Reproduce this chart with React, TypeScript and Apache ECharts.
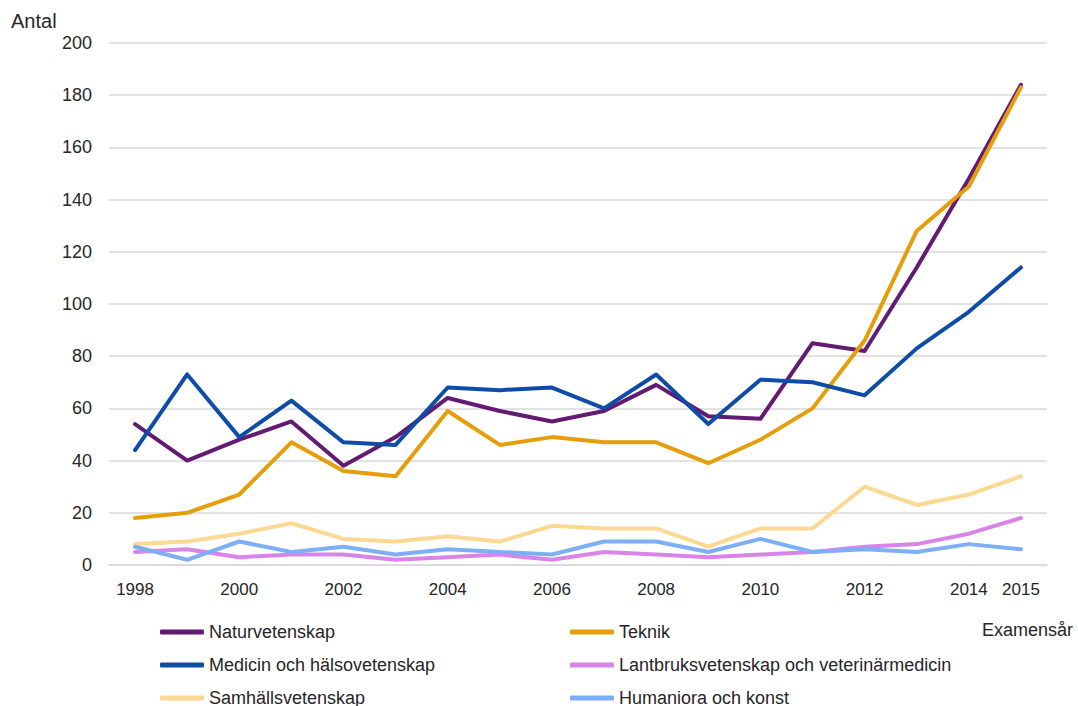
import React, { useEffect, useRef } from "react";
import * as echarts from "echarts";

const years = ["1998","1999","2000","2001","2002","2003","2004","2005","2006","2007","2008","2009","2010","2011","2012","2013","2014","2015"];
const naturvetenskap = [54, 40, 48, 55, 38, 49, 64, 59, 55, 59, 69, 57, 56, 85, 82, 114, 148, 184];
const teknik = [18, 20, 27, 47, 36, 34, 59, 46, 49, 47, 47, 39, 48, 60, 86, 128, 145, 183];
const medicin = [44, 73, 49, 63, 47, 46, 68, 67, 68, 60, 73, 54, 71, 70, 65, 83, 97, 114];
const lantbruk = [5, 6, 3, 4, 4, 2, 3, 4, 2, 5, 4, 3, 4, 5, 7, 8, 12, 18];
const samhalls = [8, 9, 12, 16, 10, 9, 11, 9, 15, 14, 14, 7, 14, 14, 30, 23, 27, 34];
const humaniora = [7, 2, 9, 5, 7, 4, 6, 5, 4, 9, 9, 5, 10, 5, 6, 5, 8, 6];

const seriesDefs = [
  { name: "Naturvetenskap", data: naturvetenskap, color: "#621A72" },
  { name: "Teknik", data: teknik, color: "#E59E0A" },
  { name: "Medicin och hälsovetenskap", data: medicin, color: "#0D4DA8" },
  { name: "Lantbruksvetenskap och veterinärmedicin", data: lantbruk, color: "#DA84EA" },
  { name: "Samhällsvetenskap", data: samhalls, color: "#FDD893" },
  { name: "Humaniora och konst", data: humaniora, color: "#7DAFF7" },
];

// legend grid: column (0/1) and row (0..2) for each series, in order
const legendCols = [0, 1, 0, 1, 0, 1];
const legendRows = [0, 0, 1, 1, 2, 2];

const FONT = "'Liberation Sans', Arial, sans-serif";
const TXT = "#262626";

export default function App() {
  const ref = useRef<HTMLDivElement>(null);
  useEffect(() => {
    if (!ref.current) return;
    const chart = echarts.init(ref.current, undefined, { renderer: "svg" });
    const colLeft = [160, 570];
    const rowTop = [623, 656, 689];
    const legends = seriesDefs.map((s, i) => ({
      orient: "horizontal" as const,
      left: colLeft[legendCols[i]],
      top: rowTop[legendRows[i]],
      padding: 0,
      itemWidth: 44,
      itemHeight: 5,
      icon: "roundRect",
      data: [s.name],
      textStyle: { fontFamily: FONT, fontSize: 18, color: TXT, lineHeight: 18 },
    }));
    chart.setOption({
      animation: false,
      textStyle: { fontFamily: FONT },
      grid: { left: 109, right: 31, top: 43, bottom: 141, containLabel: false },
      legend: legends,
      xAxis: {
        type: "category",
        data: years,
        boundaryGap: true,
        axisLine: { show: true, lineStyle: { color: "#d9d9d9", width: 1.5 } },
        axisTick: { show: false },
        axisLabel: {
          interval: (i: number) => i % 2 === 0 || i === years.length - 1,
          fontFamily: FONT,
          fontSize: 17,
          color: TXT,
          margin: 16,
        },
      },
      yAxis: {
        type: "value",
        min: 0,
        max: 200,
        interval: 20,
        axisLine: { show: false },
        axisTick: { show: false },
        axisLabel: { fontFamily: FONT, fontSize: 18, color: TXT, margin: 17 },
        splitLine: { lineStyle: { color: "#d9d9d9", width: 1.5 } },
      },
      graphic: [
        { type: "text", left: 11, top: 11, style: { text: "Antal", fontFamily: FONT, fontSize: 20, fill: TXT } },
        { type: "text", left: 982, top: 621, style: { text: "Examensår", fontFamily: FONT, fontSize: 18, fill: TXT } },
      ],
      series: seriesDefs.map((s) => ({
        name: s.name,
        type: "line",
        data: s.data,
        symbol: "none",
        color: s.color,
        lineStyle: { color: s.color, width: 4, cap: "round", join: "round" },
        emphasis: { disabled: true },
      })),
    });
    return () => chart.dispose();
  }, []);
  return <div ref={ref} style={{ width: 1078, height: 706, position: "absolute", left: 0, top: 0 }} />;
}
